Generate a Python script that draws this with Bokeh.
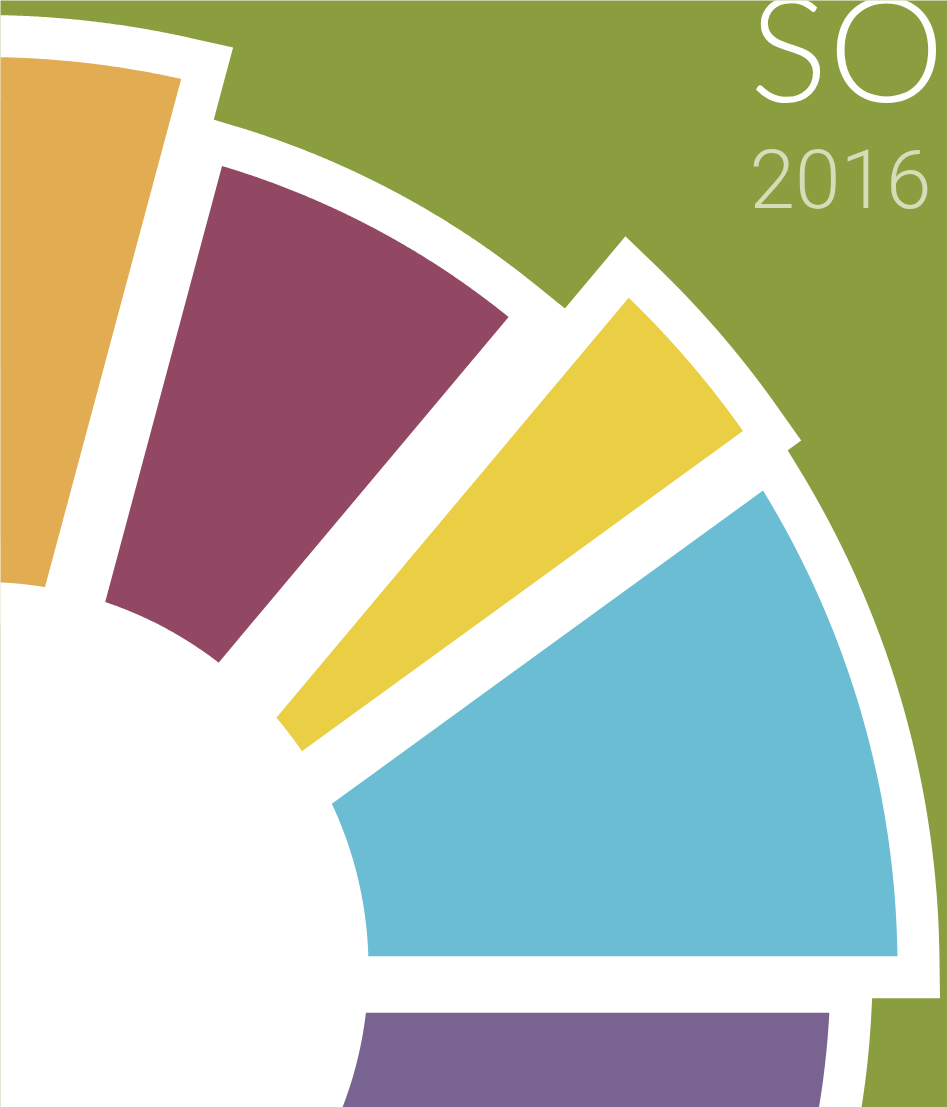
import numpy as np
from bokeh.plotting import figure
from bokeh.models import Range1d
from bokeh.embed import file_html
from bokeh.resources import INLINE
from bokeh.core.properties import value

# ---- data -------------------------------------------------------------
segments = ["Segment A", "Segment B", "Segment C", "Segment D", "Segment E"]
colors = ["#786391", "#6BBDD3", "#EACF45", "#924862", "#E2AD52"]
outer_radius = [848, 915, 931, 837, 911]          # radial bar length
boundary_deg = [-30, 0, 36, 50, 75, 100]          # angular boundaries
inner_radius = 386

title_text = ["SOC"]
year_text = ["2016"]

# ---- style ------------------------------------------------------------
gap_center = [0.0, -16.5, -42.5, -24.4, 7.2, 0.0]  # offset of each gap from its ray
gap_half = [0.0, 28.3, 30.0, 39.8, 31.0, 0.0]      # half width of each gap
outline_px = 42
GREEN = "#8A9E40"


def corner_angle(a_deg, off, r):
    a = np.radians(a_deg)
    return a + np.arctan2(off, np.sqrt(r * r - off * off))


xs, ys = [], []
for i in range(len(segments)):
    lo_a, hi_a = boundary_deg[i], boundary_deg[i + 1]
    lo_off = gap_center[i] + gap_half[i]
    hi_off = gap_center[i + 1] - gap_half[i + 1]
    R1, R0 = outer_radius[i], inner_radius
    o1, o2 = corner_angle(lo_a, lo_off, R1), corner_angle(hi_a, hi_off, R1)
    i1, i2 = corner_angle(lo_a, lo_off, R0), corner_angle(hi_a, hi_off, R0)
    t_out = np.linspace(o1, o2, 240)
    t_in = np.linspace(i2, i1, 120)
    xs.append(np.concatenate([R1 * np.cos(t_out), R0 * np.cos(t_in)]))
    ys.append(np.concatenate([R1 * np.sin(t_out), R0 * np.sin(t_in)]))

p = figure(width=947, height=1107, output_backend="svg", toolbar_location=None,
           x_range=Range1d(18, 965), y_range=Range1d(-139.5, 967.5),
           min_border=0, outline_line_color=None,
           background_fill_color=GREEN, border_fill_color=GREEN)
p.axis.visible = False
p.grid.visible = False

# white body behind the bars
p.circle(x=[0], y=[0], radius=600, fill_color="white", line_color=None)
p.patches(xs, ys, fill_color="white", line_color="white",
          line_width=2 * outline_px, line_join="miter")
p.patches(xs, ys, fill_color=colors, line_color=None)

p.text(x=[767], y=[923], text=title_text, text_font=value("Lato Light"),
       text_font_size="147px", text_color="white", text_baseline="alphabetic",
       text_align="left")
p.text(x=[767], y=[789], text=year_text, text_font=value("Roboto Light"),
       text_font_size="82px", text_color="#D4DDB7", text_baseline="alphabetic",
       text_align="left")

open("out.html", "w").write(file_html(p, INLINE))
